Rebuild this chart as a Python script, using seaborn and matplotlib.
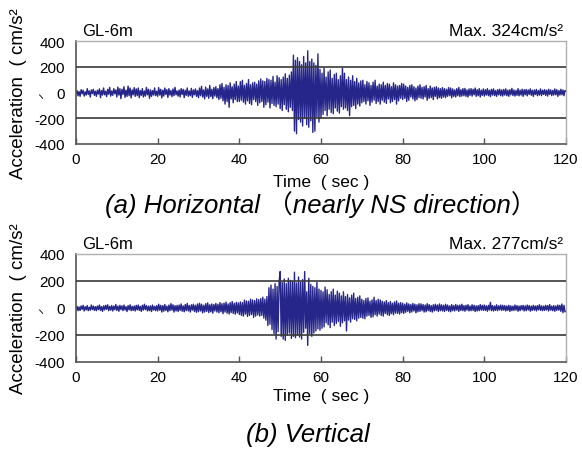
import numpy as np
import pandas as pd
import matplotlib
matplotlib.use("Agg")
import matplotlib.pyplot as plt
import seaborn as sns

dt = 0.25
acc_horizontal = [
    -12, 15, -25, 8, -30, 22, -10, 18, -28, 5, -20, 30, -15, 12, -35, 20, -8, 25, -22, 10,
    -30, 18, -12, 28, -40, 15, -20, 35, -18, 10, -32, 25, -14, 40, -28, 12, -22, 30, -10, 20,
    -35, 42, -20, 30, -48, 25, -15, 45, -38, 18, -30, 50, -25, 35, -42, 20, -18, 38, -30, 28,
    -25, 35, -40, 15, -22, 30, -35, 12, -28, 40, -18, 25, -45, 20, -30, 15, -20, 35, -25, 10,
    -30, 38, -20, 25, -42, 18, -28, 35, -15, 22, -38, 30, -20, 15, -32, 28, -25, 40, -18, 12,
    -28, 20, -35, 30, -15, 25, -40, 18, -22, 35, -30, 12, -25, 32, -38, 20, -18, 28, -30, 15,
    -40, 35, -25, 48, -35, 20, -50, 42, -30, 28, -45, 55, -32, 25, -48, 38, -28, 45, -40, 30,
    -55, 60, -45, 70, -65, 40, -90, 60, -70, 55, -115, 75, -50, 45, -80, 65, -55, 85, -70, 50,
    -70, 85, -60, 95, -75, 55, -90, 70, -65, 100, -85, 60, -95, 75, -55, 80, -70, 65, -100, 90,
    -80, 105, -70, 90, -115, 85, -95, 110, -75, 100, -120, 95, -85, 125, -100, 80, -110, 130, -90, 115,
    -125, 100, -140, 120, -95, 145, -130, 110, -150, 135, -115, 160, -140, 290, -300, 250, -320, 270, -210, 240,
    -230, 215, -260, 280, -200, 230, -250, 324, -270, 240, -220, 260, -310, 230, -300, 210, -190, 300, -230, 180,
    -200, 150, -170, 190, -140, 120, -180, 160, -130, 175, -155, 110, -165, 140, -120, 150, -145, 100, -160, 130,
    -110, 190, -130, 150, -120, 100, -140, 120, -180, 95, -110, 130, -100, 85, -125, 110, -90, 75, -105, 90,
    -80, 95, -70, 60, -90, 85, -65, 75, -100, 55, -75, 80, -60, 95, -85, 50, -70, 65, -90, 60,
    -60, 80, -75, 55, -85, 70, -50, 65, -80, 45, -70, 75, -55, 60, -90, 50, -65, 55, -45, 70,
    -55, 65, -45, 50, -70, 40, -60, 55, -35, 60, -50, 45, -65, 35, -55, 50, -40, 60, -45, 40,
    -50, 45, -35, 55, -60, 30, -45, 50, -40, 35, -55, 40, -30, 45, -50, 35, -40, 30, -45, 38,
    -35, 30, -40, 25, -30, 38, -25, 35, -42, 28, -30, 20, -35, 30, -25, 40, -32, 22, -28, 30,
    -25, 32, -30, 20, -35, 28, -22, 30, -28, 25, -18, 35, -30, 22, -25, 30, -35, 18, -22, 28,
    -28, 22, -20, 30, -25, 18, -32, 25, -20, 28, -24, 15, -30, 22, -18, 26, -25, 20, -28, 24,
    -20, 28, -25, 18, -30, 22, -18, 32, -24, 20, -28, 16, -22, 30, -26, 18, -20, 25, -30, 22,
    -18, 24, -26, 20, -15, 28, -22, 18, -30, 20, -16, 24, -25, 15, -20, 28, -24, 18, -15, 22,
    -22, 18, -28, 25, -15, 20, -24, 16, -20, 28, -18, 22, -30, 15, -20, 25, -18, 20, -25, 15,
    10,
]
acc_vertical = [
    -15, 12, -20, 8, -18, 15, -10, 20, -22, 10, -14, 18, -20, 6, -16, 22, -12, 14, -18, 10,
    -20, 15, -12, 22, -18, 10, -25, 16, -14, 20, -10, 24, -20, 12, -16, 18, -22, 14, -12, 26,
    -18, 14, -24, 20, -12, 16, -20, 22, -15, 10, -26, 18, -14, 24, -20, 12, -18, 15, -22, 20,
    -14, 22, -18, 12, -25, 20, -16, 28, -12, 18, -22, 14, -20, 16, -26, 22, -15, 12, -20, 18,
    -22, 28, -16, 20, -30, 18, -24, 26, -18, 14, -28, 22, -20, 32, -16, 24, -30, 18, -22, 20,
    -26, 22, -18, 30, -24, 16, -28, 26, -20, 34, -22, 18, -30, 24, -16, 28, -26, 20, -32, 30,
    -28, 35, -22, 28, -36, 20, -30, 32, -25, 38, -34, 24, -28, 30, -38, 26, -22, 34, -30, 28,
    -35, 40, -28, 32, -42, 36, -30, 44, -38, 30, -45, 40, -34, 48, -40, 35, -46, 42, -36, 38,
    -48, 45, -55, 40, -60, 58, -45, 52, -62, 50, -55, 65, -48, 60, -70, 55, -60, 68, -52, 62,
    -60, 70, -55, 80, -75, 65, -90, 85, -130, 150, -120, 170, -160, 140, -190, 180, -230, 160, -175, 200,
    270, -210, 190, -230, 215, -240, 180, -200, 220, -185, 205, -225, 195, -210, 265, -220, 185, -200, 230, -215,
    190, -230, 210, -180, 270, -150, 120, -277, 220, -190, 175, -210, 160, -185, 150, -170, 190, -155, 140, -165,
    130, -150, 120, -140, 155, -110, 135, -125, 100, -145, 120, -105, 140, -130, 95, -115, 125, -100, 110, -135,
    90, -110, 120, -95, 85, -170, 100, -90, 75, -105, 95, -80, 110, -85, 70, -95, 80, -75, 90, -70,
    65, -75, 55, -80, 70, -60, 75, -55, 50, -70, 60, -65, 80, -50, 55, -60, 65, -45, 60, -55,
    50, -60, 45, -40, 55, -50, 40, -55, 48, -42, 35, -50, 45, -38, 52, -40, 36, -45, 40, -35,
    35, -40, 28, -32, 38, -25, 30, -35, 26, -30, 34, -22, 28, -36, 24, -28, 32, -25, 30, -20,
    26, -30, 22, -28, 32, -20, 25, -26, 18, -30, 24, -22, 28, -18, 22, -26, 30, -20, 24, -22,
    20, -26, 28, -18, 22, -24, 16, -28, 25, -20, 18, -22, 26, -16, 20, -25, 22, -18, 28, -20,
    18, -24, 20, -16, 25, -22, 15, -20, 24, -18, 20, -26, 16, -22, 18, -20, 25, -16, 20, -18,
    22, -18, 16, -24, 20, -15, 42, -20, 18, -22, 15, -18, 24, -20, 16, -14, 22, -18, 20, -16,
    18, -22, 15, -18, 20, -25, 16, -20, 14, -18, 22, -16, 18, -24, 15, -20, 18, -14, 20, -22,
    16, -20, 22, -15, 18, -24, 14, -18, 20, -16, 15, -22, 18, -14, 24, -18, 16, -20, 14, -18,
    20, -15, 18, -22, 25, -16, 14, -20, 18, -24, 15, -18, 22, -16, 20, -25, 30, -35, 20, -28,
    -25,
]
panels = [
    ("GL-6m", "Max. 324cm/s\u00b2", "(a) Horizontal \uff08nearly NS direction\uff09", acc_horizontal),
    ("GL-6m", "Max. 277cm/s\u00b2", "(b) Vertical", acc_vertical),
]
x_ticks = [0, 20, 40, 60, 80, 100, 120]
y_ticks = [-400, -200, 0, 200, 400]
ref_levels = [-200, 200]

sns.set_theme(style="white")
plt.rcParams['font.family'] = ['Liberation Sans', 'Noto Sans CJK JP', 'DejaVu Sans']
plt.rcParams['axes.unicode_minus'] = False
plt.rcParams['text.color'] = 'black'
plt.rcParams['axes.labelcolor'] = 'black'

fig = plt.figure(figsize=(5.82, 4.52), dpi=100)
W, H = 582, 452
boxes = [(76, 42, 566, 145), (76, 255, 566, 363)]
time_label_y = [183, 397]
captions_xy = [(321, 205), (308, 435)]

for (site, peak, caption, acc), (x0, y0, x1, y1), ty, (cx, cy) in zip(panels, boxes, time_label_y, captions_xy):
    ax = fig.add_axes([x0 / W, 1 - y1 / H, (x1 - x0) / W, (y1 - y0) / H])
    df = pd.DataFrame({"time": np.arange(len(acc)) * dt, "acc": acc})
    sns.lineplot(data=df, x="time", y="acc", ax=ax, color="#25258a", lw=1.0)
    for lv in ref_levels:
        ax.axhline(lv, color="#3a3a3a", lw=1.2, zorder=3)
    ax.set_xlim(0, 120)
    ax.set_ylim(-400, 400)
    ax.set_xticks(x_ticks)
    ax.set_yticks(y_ticks)
    ax.tick_params(axis="x", direction="in", length=4, width=1, color="#555555",
                   labelcolor="black", labelsize=11, pad=6, bottom=True)
    ax.tick_params(axis="y", length=0, labelsize=11, pad=8, labelcolor="black")
    for s in ["left", "bottom"]:
        ax.spines[s].set_color("#555555")
        ax.spines[s].set_linewidth(1.2)
    for s in ["top", "right"]:
        ax.spines[s].set_color("#b0b0b0")
        ax.spines[s].set_linewidth(1.0)
    h = y1 - y0
    ax.set_xlabel("Time  ( sec )", fontsize=12.5)
    ax.xaxis.set_label_coords(0.5, (y1 - ty) / h)
    ax.xaxis.label.set_va("center")
    ax.set_ylabel("Acceleration  ( cm/s\u00b2", fontsize=13.5)
    ax.yaxis.set_label_coords((19 - x0) / (x1 - x0), 0.5)
    ax.yaxis.label.set_va("center")
    ax.text(6 / (x1 - x0), 1.03, site, transform=ax.transAxes, fontsize=12, ha="left", va="bottom")
    ax.text(0.995, 1.03, peak, transform=ax.transAxes, fontsize=12.5, ha="right", va="bottom")
    ax.text((40 - x0) / (x1 - x0), 0.47, "\u30fd", transform=ax.transAxes, fontsize=7,
            ha="center", va="center", family=['Noto Sans CJK JP'])
    fig.text(cx / W, 1 - cy / H, caption, fontsize=18.5, style="italic",
             ha="center", va="center")

fig.savefig("out.png", dpi=100)
